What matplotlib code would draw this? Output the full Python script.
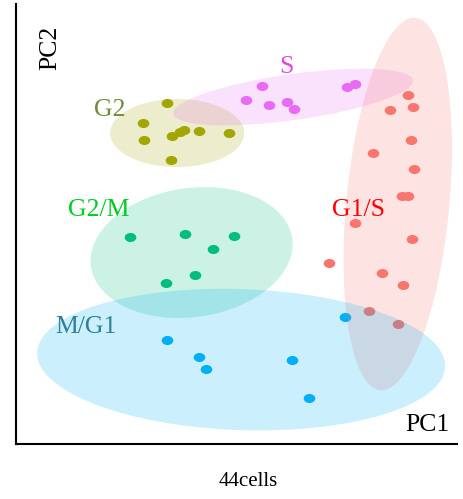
import matplotlib
matplotlib.use("Agg")
import matplotlib.pyplot as plt
from matplotlib.patches import Ellipse
from matplotlib.path import Path
from matplotlib.transforms import Affine2D

# PCA scores per cell-cycle phase (arbitrary PC units)
g2_pc1 = [151, 127, 128, 156, 164, 168, 183, 213, 155]
g2_pc2 = [341, 321, 304, 308, 312, 314, 313, 311, 284]

s_pc1 = [246, 230, 253, 271, 278, 331, 339]
s_pc2 = [358, 344, 339, 342, 335, 357, 360]

g1s_pc1 = [392, 374, 397, 395, 357, 398, 386, 392, 339, 396, 313, 366, 387, 353, 382]
g1s_pc2 = [349, 334, 337, 304, 291, 275, 248, 248, 221, 205, 181, 171, 159, 133, 120]

g2m_pc1 = [114, 169, 218, 197, 179, 150]
g2m_pc2 = [207, 210, 208, 195, 169, 161]

mg1_pc1 = [329, 151, 183, 190, 276, 293]
mg1_pc2 = [127, 104, 87, 75, 84, 46]

phases = ["G2", "S", "G1/S", "G2/M", "M/G1"]
point_colors = ["#A3A500", "#E76BF3", "#F8766D", "#00BF7D", "#00B0F6"]
label_colors = ["#6E8B3D", "#E545E5", "#FF0000", "#00CD22", "#2A8199"]

# confidence ellipses: centre x, centre y, width, height, angle
ell_cx = [161, 277, 381.5, 175.5, 225]
ell_cy = [311, 347, 240, 191.5, 84.5]
ell_w = [134, 242, 374, 203, 408]
ell_h = [68, 46, 103, 129, 141]
ell_angle = [0, 8, 84.6, 8, -2]

# phase label positions
label_x = [94, 270, 342, 83, 70]
label_y = [334, 377, 234, 234, 117]

pc1 = [g2_pc1, s_pc1, g1s_pc1, g2m_pc1, mg1_pc1]
pc2 = [g2_pc2, s_pc2, g1s_pc2, g2m_pc2, mg1_pc2]

plt.rcParams["font.family"] = ["Liberation Serif", "DejaVu Serif"]

fig = plt.figure(figsize=(4.64, 4.99), dpi=100)
ax = fig.add_axes([0.0345, 0.110, 0.951, 0.882])

# slightly squashed dot marker
dot = Path.unit_circle().transformed(Affine2D().scale(1, 0.78))

for i in range(len(phases)):
    ax.scatter(pc1[i], pc2[i], s=70, marker=dot, color=point_colors[i],
               linewidths=0, zorder=2)

for i in range(len(phases)):
    ax.add_patch(Ellipse((ell_cx[i], ell_cy[i]), ell_w[i], ell_h[i],
                         angle=ell_angle[i], facecolor=point_colors[i],
                         edgecolor="none", alpha=0.2, zorder=3))

for i in range(len(phases)):
    ax.text(label_x[i], label_y[i], phases[i], color=label_colors[i],
            fontsize=18.5, ha="center", va="center", zorder=4)

ax.text(411, 19, "PC1", fontsize=18.5, ha="center", va="center")
ax.text(34, 396, "PC2", fontsize=18.5, ha="center", va="center", rotation=90)

ax.set_xlim(0, 441)
ax.set_ylim(0, 440)
ax.set_xticks([])
ax.set_yticks([])
ax.spines[["top", "right"]].set_visible(False)
ax.spines["left"].set_linewidth(1.5)
ax.spines["bottom"].set_linewidth(1.5)

# sample size caption under the plot
fig.text(248 / 464, 18 / 499, "44cells", fontsize=15, ha="center", va="center")

fig.savefig("out.png", dpi=100)
